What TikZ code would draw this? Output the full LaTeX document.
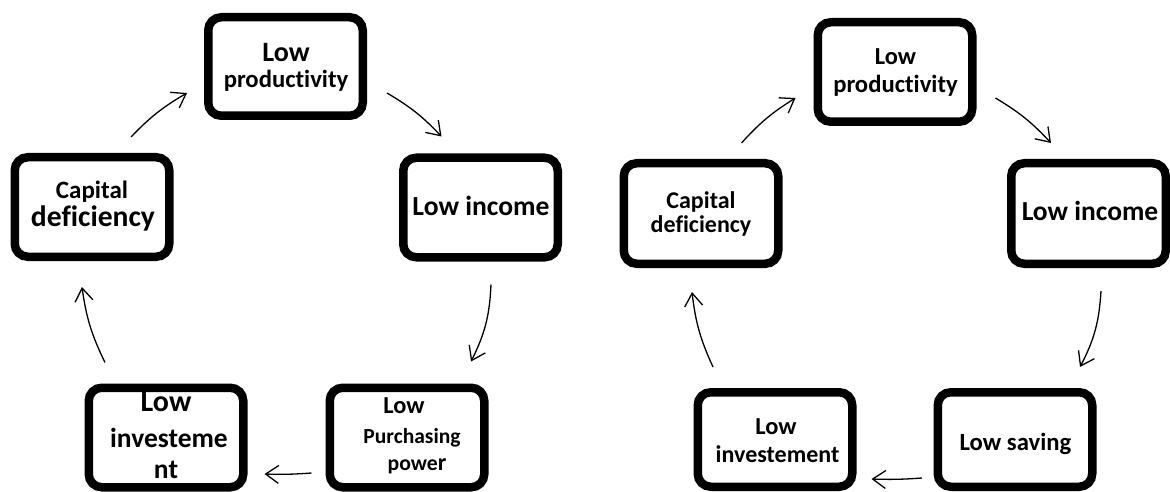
\documentclass[tikz,border=0pt]{standalone}
\usepackage{fontspec}
\setmainfont{Carlito}[Ligatures={NoCommon}]
\usetikzlibrary{arrows.meta,calc,shadows}
\newcommand\fsz[1]{\fontsize{#1}{#1}\selectfont\bfseries}
\begin{document}
\begin{tikzpicture}[x=1pt,y=-1pt,
  box/.style={draw=black, line width=8.5pt, rounded corners=13pt, fill=white,
    minimum width=154.5pt, minimum height=99.5pt, inner sep=0pt, outer sep=4.25pt,
    drop shadow={shadow xshift=1.5pt, shadow yshift=-3pt, opacity=0.22, fill=black}},
  txt/.style={anchor=base, inner sep=0pt, outer sep=0pt, text=black},
  arr/.style={-{Straight Barb[length=13pt,width=18pt]}, line width=1.3pt, black}]
\useasboundingbox (0,0) rectangle (1170,492);

% ---------- left cycle ----------
\node[box, minimum height=98.5pt] (lpL) at (285.5,66.5) {};
\node[box] (cdL) at (92,207) {};
\node[box] (liL) at (480.5,207.5) {};
\node[box] (linvL) at (166,437.5) {};
\node[box] (lppL) at (407,437.5) {};

\node[txt, font=\fsz{28}] (lpL1) at (286,62) {Low};
\node[txt, font=\fsz{24.7}] (lpL2) at (286,88) {productivity};
\node[txt, font=\fsz{25}] (cdL1) at (92,198) {Capital};
\node[txt, font=\fsz{29.6}] (cdL2) at (93,226) {deficiency};
\node[txt, font=\fsz{27.6}] (liL1) at (481,215) {Low income};
\node[txt, font=\fsz{30}] (linvL1) at (166,411) {Low};
\node[txt, font=\fsz{27.5}] (linvL2) at (169,447) {investeme};
\node[txt, font=\fsz{27.5}] (linvL3) at (166,478) {nt};
\node[txt, font=\fsz{24.4}] (lppL1) at (404,413) {Low};
\node[txt, font=\fsz{21.5}] (lppL2) at (412,443) {Purchasing};
\node[txt, font=\fsz{21.7}] (lppL3) at (417,470) {powe{\fsz{24}r}};

\draw[arr] ($(cdL.north)+(39,-16)$) to[bend left=8] ($(lpL.west)+(-17,26.5)$);
\draw[arr] ($(lpL.east)+(20,26.5)$) to[bend left=8] ($(liL.north)+(-39,-17)$);
\draw[arr] ($(liL.south)+(10.5,23)$) to[bend left=12] ($(lppL.north)+(64,-22)$);
\draw[arr] ($(lppL.west)+(-14,35.5)$) to[bend left=3] ($(linvL.east)+(17,36.5)$);
\draw[arr] ($(linvL.north)+(-61,-21)$) to[bend left=9] ($(cdL.south)+(-10,26)$);

% ---------- right cycle ----------
\node[box] (lpR) at (895,72) {};
\node[box, minimum height=100.5pt] (cdR) at (701,213.5) {};
\node[box, minimum height=100.5pt] (liR) at (1088.5,213.5) {};
\node[box, minimum height=94.5pt] (linvR) at (775,439.5) {};
\node[box, minimum height=94.5pt] (lsR) at (1015,439.5) {};

\node[txt, font=\fsz{24.4}] (lpR1) at (895.5,65) {Low};
\node[txt, font=\fsz{24.7}] (lpR2) at (895.5,93) {productivity};
\node[txt, font=\fsz{24}] (cdR1) at (701,208) {Capital};
\node[txt, font=\fsz{24}] (cdR2) at (701,232) {deficiency};
\node[txt, font=\fsz{27.5}] (liR1) at (1090,220) {Low income};
\node[txt, font=\fsz{24.4}] (linvR1) at (776,434) {Low};
\node[txt, font=\fsz{24}] (linvR2) at (777.5,462) {investement};
\node[txt, font=\fsz{24.7}] (lsR1) at (1015.5,450) {Low saving};

\draw[arr] ($(cdR.north)+(40.5,-16)$) to[bend left=8] ($(lpR.west)+(-18,26)$);
\draw[arr] ($(lpR.east)+(19,26)$) to[bend left=8] ($(liR.north)+(-37.5,-16)$);
\draw[arr] ($(liR.south)+(12.5,23)$) to[bend left=12] ($(lsR.north)+(65,-21)$);
\draw[arr] ($(lsR.west)+(-11.5,38.5)$) to[bend left=3] ($(linvR.east)+(15,39.5)$);
\draw[arr] ($(linvR.north)+(-62,-21)$) to[bend left=9] ($(cdR.south)+(-9,24)$);
\end{tikzpicture}
\end{document}
